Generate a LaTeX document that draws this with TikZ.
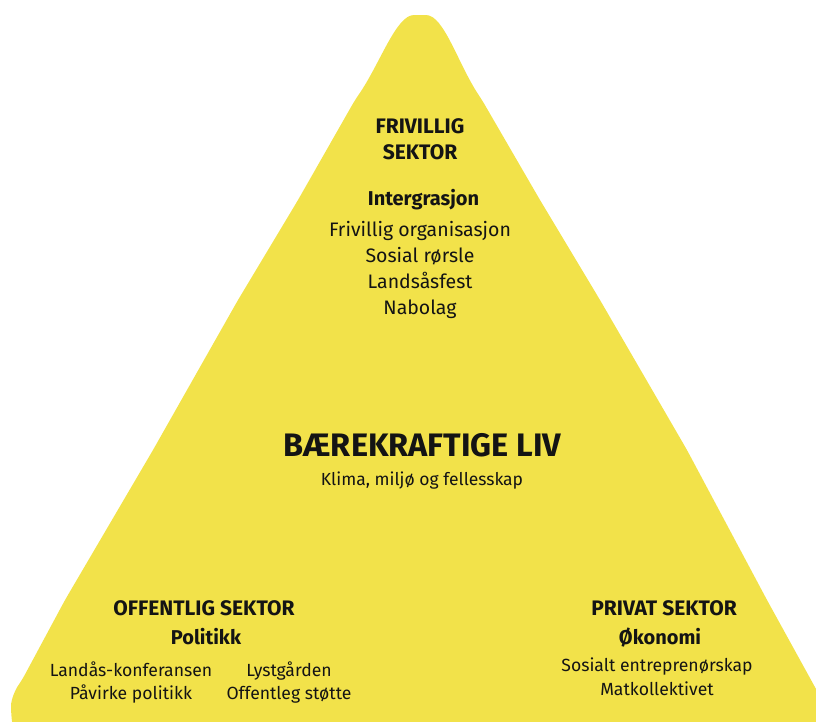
\documentclass[tikz,border=0pt]{standalone}
\usepackage{fontspec}
\setmainfont{Fira Sans}
\usepackage{tikz}
\definecolor{pyryellow}{RGB}{242,226,74}
\definecolor{pyrink}{RGB}{20,20,20}
\tikzset{
    pyramid/.style = {fill=pyryellow,rounded corners=6pt},
    txt/.style = {inner sep=0,anchor=base,align=center,text=pyrink},
    sector/.style = {txt,font=\fontsize{21}{26}\selectfont\bfseries},
    theme/.style = {txt,font=\fontsize{20}{26}\selectfont\bfseries},
    items/.style = {txt,font=\fontsize{19.5}{25.7}\selectfont},
    lowitems/.style = {txt,font=\fontsize{17.6}{23.1}\selectfont},
    title/.style = {txt,font=\fontsize{32.5}{34}\selectfont\bfseries},
    subtitle/.style = {txt,font=\fontsize{17.5}{22}\selectfont}
}

\begin{document}
\begin{tikzpicture}[x=1pt,y=-1pt]
    \useasboundingbox (0,0) rectangle (816,721);
    \clip (0,0) rectangle (816,721);
    % Pyramid
    \fill[pyramid] (14,740) -- (11,712)
        .. controls (11,700) and (15,690) .. (22,680)
        -- (65,600) -- (153,450) -- (238,300) -- (298,200) -- (355,100)
        .. controls (380,64) and (396,15) .. (420,15)
        .. controls (444,15) and (458,64) .. (482,100)
        -- (540,200) -- (600,300) -- (687,450)
        -- (767,600) -- (832,718) -- (832,740) -- cycle;
    % Top: voluntary sector
    \node[sector] (frivillig) at (420,159) {FRIVILLIG\\SEKTOR};
    \node[theme] (integrasjon) at (423.5,205) {Intergrasjon};
    \node[items] (frivitems) at (420,314)
        {Frivillig organisasjon\\Sosial rørsle\\Landsåsfest\\Nabolag};
    % Centre
    \node[title] (liv) at (422.5,456) {BÆREKRAFTIGE LIV};
    \node[subtitle] (klima) at (422,485) {Klima, miljø og fellesskap};
    % Bottom left: public sector
    \node[sector] (offentlig) at (204,615) {OFFENTLIG SEKTOR};
    \node[theme] (politikk) at (206,644) {Politikk};
    \node[lowitems] (offitemsa) at (131,699.3) {Landås-konferansen\\Påvirke politikk};
    \node[lowitems] (offitemsb) at (289,699.3) {Lystgården\\Offentleg støtte};
    % Bottom right: private sector
    \node[sector] (privat) at (664,615) {PRIVAT SEKTOR};
    \node[theme] (okonomi) at (660,644) {Økonomi};
    \node[lowitems] (privitems) at (657,695) {Sosialt entreprenørskap\\Matkollektivet};
\end{tikzpicture}
\end{document}
